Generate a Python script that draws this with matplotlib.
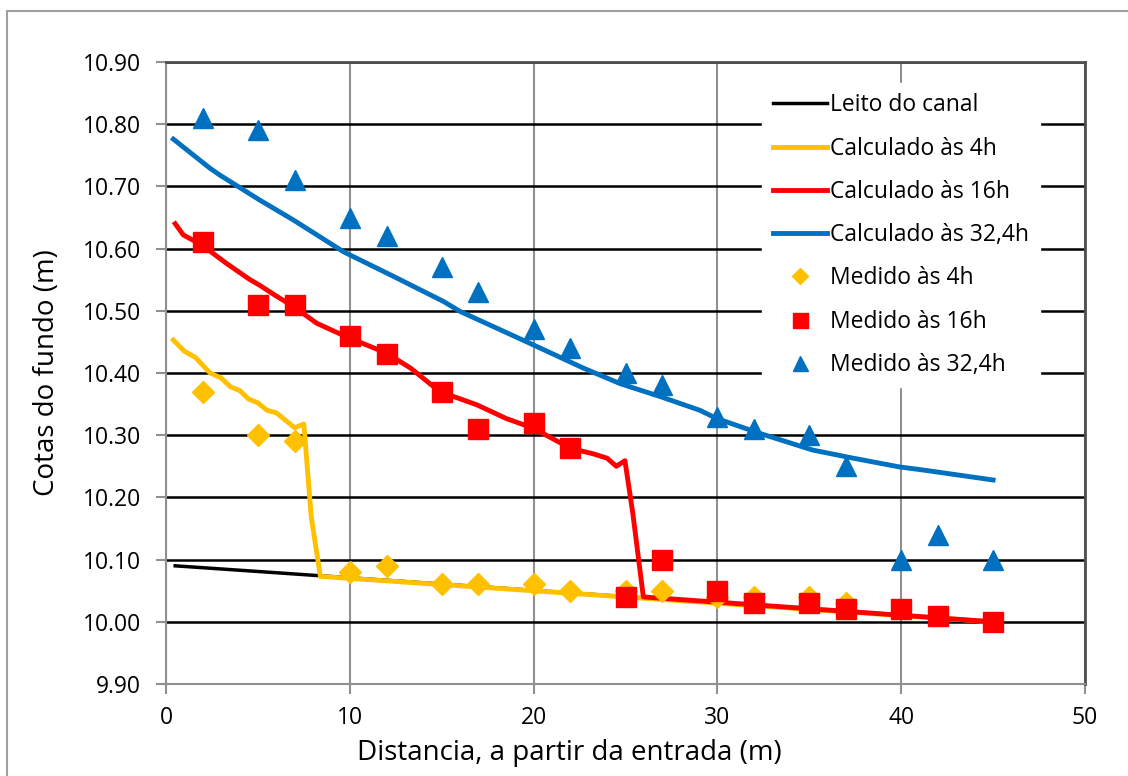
import numpy as np
import matplotlib.pyplot as plt
from matplotlib.patches import Rectangle

plt.rcParams['font.family'] = ['Open Sans', 'DejaVu Sans']

# --- Leito do canal ---
bed_x = [0.5, 45]
bed_y = [10.09, 10.00]

# --- Calculado às 4h ---
c4_x = [0.4, 1.0, 1.6, 2.4, 3.0, 3.5, 4.0, 4.5, 5.0, 5.5, 6.0, 6.5, 7.0, 7.5,
        7.9, 8.4, 45]
c4_y = [10.453, 10.435, 10.425, 10.40, 10.392, 10.378, 10.372, 10.358, 10.352,
        10.34, 10.336, 10.324, 10.312, 10.318, 10.169, 10.073, 10.00]

# --- Calculado às 16h ---
c16_x = [0.5, 0.94, 1.94, 3.3, 4.57, 5.1, 5.93, 6.93, 8.2, 9.83, 12.0, 13.3,
         14.9, 16.9, 18.5, 20.0, 22.0, 23.25, 24.0, 24.5, 24.97, 25.4, 25.97, 45]
c16_y = [10.64, 10.622, 10.606, 10.576, 10.55, 10.541, 10.525, 10.507, 10.48,
         10.458, 10.432, 10.408, 10.37, 10.349, 10.327, 10.311, 10.279, 10.27,
         10.263, 10.25, 10.259, 10.174, 10.04, 10.00]

# --- Calculado às 32,4h ---
c32_x = [0.4, 2.4, 2.94, 5.1, 6.93, 9.65, 12.4, 15.1, 16.0, 20.0, 22.7, 24.7,
         26.9, 29.05, 29.95, 32.3, 35.2, 37.4, 39.9, 41.2, 45.0]
c32_y = [10.776, 10.729, 10.718, 10.678, 10.646, 10.595, 10.555, 10.515,
         10.499, 10.445, 10.408, 10.383, 10.362, 10.34, 10.327, 10.303,
         10.276, 10.263, 10.249, 10.244, 10.228]

# --- Medições ---
m4_x = [2, 5, 7, 10, 12, 15, 17, 20, 22, 25, 27, 30, 32, 35, 37]
m4_y = [10.37, 10.30, 10.29, 10.08, 10.09, 10.06, 10.06, 10.06, 10.05, 10.05,
        10.05, 10.04, 10.04, 10.04, 10.03]

m16_x = [2, 5, 7, 10, 12, 15, 17, 20, 22, 25, 27, 30, 32, 35, 37, 40, 42, 45]
m16_y = [10.61, 10.51, 10.51, 10.46, 10.43, 10.37, 10.31, 10.32, 10.28, 10.04,
         10.10, 10.05, 10.03, 10.03, 10.02, 10.02, 10.01, 10.00]

m32_x = [2, 5, 7, 10, 12, 15, 17, 20, 22, 25, 27, 30, 32, 35, 37, 40, 42, 45]
m32_y = [10.81, 10.79, 10.71, 10.65, 10.62, 10.57, 10.53, 10.47, 10.44, 10.40,
         10.38, 10.33, 10.31, 10.30, 10.25, 10.10, 10.14, 10.10]

YELLOW = '#FFC000'
RED = '#FF0000'
BLUE = '#0070C0'

fig = plt.figure(figsize=(11.28, 7.76), dpi=100)
ax = fig.add_axes([166 / 1128, 1 - 684 / 776, (1085 - 166) / 1128, (684 - 62) / 776])

# figure border
fig.patches.append(Rectangle((7 / 1128, -0.1), 1.2, 1 - 11 / 776 + 0.1,
                             transform=fig.transFigure, fill=False,
                             edgecolor='#A0A0A0', linewidth=1.5))

ax.plot(bed_x, bed_y, color='black', lw=2.5, label='Leito do canal', zorder=3)
ax.plot(c4_x, c4_y, color=YELLOW, lw=3.5, label='Calculado às 4h', zorder=3)
ax.plot(c16_x, c16_y, color=RED, lw=3.5, label='Calculado às 16h', zorder=4)
ax.plot(c32_x, c32_y, color=BLUE, lw=3.5, label='Calculado às 32,4h', zorder=3)
ax.plot(m4_x, m4_y, ls='none', marker='D', ms=11, color=YELLOW,
        mec=YELLOW, label='Medido às 4h', zorder=5)
ax.plot(m16_x, m16_y, ls='none', marker='s', ms=15, color=RED,
        mec=RED, label='Medido às 16h', zorder=6)
ax.plot(m32_x, m32_y, ls='none', marker='^', ms=15, color=BLUE,
        mec=BLUE, label='Medido às 32,4h', zorder=6)

ax.set_xlim(0, 50)
ax.set_ylim(9.90, 10.90)
ax.set_xticks(np.arange(0, 51, 10))
ax.set_yticks(np.arange(9.90, 10.901, 0.10))
ax.set_yticklabels([f'{v:.2f}' for v in np.arange(9.90, 10.901, 0.10)])

ax.yaxis.grid(True, color='black', lw=1.8)
ax.xaxis.grid(True, color='#909090', lw=1.5)
ax.set_axisbelow(True)

for s in ['left', 'bottom']:
    ax.spines[s].set_color('#909090')
    ax.spines[s].set_linewidth(1.5)
for s in ['top', 'right']:
    ax.spines[s].set_color('#505050')
    ax.spines[s].set_linewidth(2)

ax.tick_params(axis='both', direction='out', length=7, width=1.5,
               color='#909090', labelsize=16.5)
ax.tick_params(axis='y', pad=11)
ax.tick_params(axis='x', pad=9)

ax.set_xlabel('Distancia, a partir da entrada (m)', fontsize=20)
ax.xaxis.set_label_coords(0.4385, -0.088)
ax.set_ylabel('Cotas do fundo (m)', fontsize=20, labelpad=16)

leg = ax.legend(loc='upper left', bbox_to_anchor=(0.649, 0.966),
                frameon=True, fontsize=16.5, handlelength=2.35,
                labelspacing=0.84, borderpad=0.45, handletextpad=0.17,
                markerscale=0.72, fancybox=False, borderaxespad=0)
leg.get_frame().set_edgecolor('white')
leg.get_frame().set_facecolor('white')
leg.get_frame().set_alpha(1.0)
leg.set_zorder(10)

fig.savefig('out.png', dpi=100)
